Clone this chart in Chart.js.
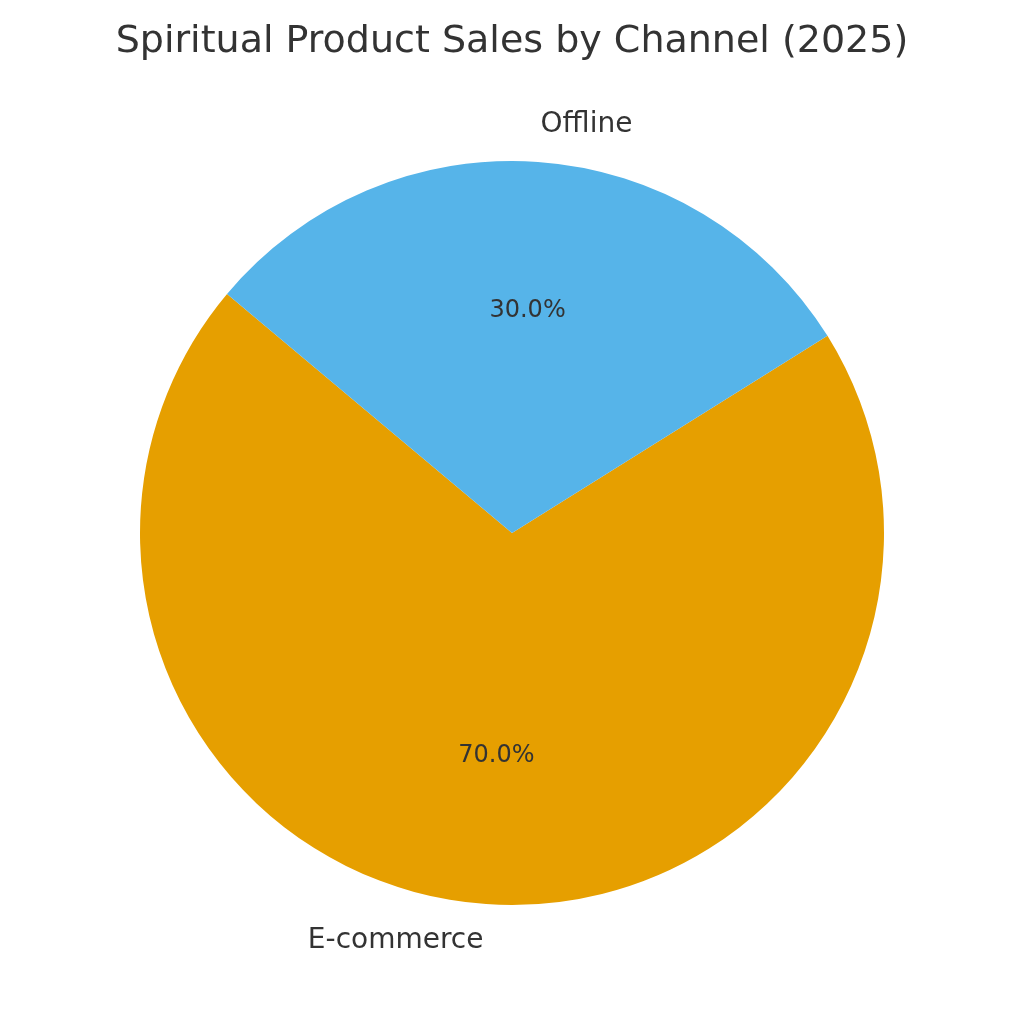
<!DOCTYPE html>
<html>
<head>
<meta charset="utf-8">
<script src="https://cdn.jsdelivr.net/npm/chart.js@4/dist/chart.umd.min.js"></script>
<style>
  html, body { margin: 0; padding: 0; background: #ffffff; }
  #wrap { width: 1024px; height: 1024px; }
</style>
</head>
<body>
<div id="wrap"><canvas id="c" width="1024" height="1024"></canvas></div>
<script>
const titleText = 'Spiritual Product Sales by Channel (2025)';
const categories = ['E-commerce', 'Offline'];
const shares = [70, 30];
const sliceColors = ['#E69F00', '#56B4E9'];

const textColor = '#333333';
const fontFamily = '"DejaVu Sans", "Liberation Sans", sans-serif';

const pieLabels = {
  id: 'pieLabels',
  afterDatasetsDraw(chart) {
    const ctx = chart.ctx;
    const meta = chart.getDatasetMeta(0);
    const total = shares.reduce((a, b) => a + b, 0);
    meta.data.forEach((arc, i) => {
      const p = arc.getProps(['x', 'y', 'startAngle', 'endAngle', 'outerRadius'], true);
      const mid = (p.startAngle + p.endAngle) / 2;
      const cx = Math.cos(mid), cy = Math.sin(mid);
      ctx.save();
      ctx.fillStyle = textColor;
      // percentage at 0.6 r
      ctx.font = '24px ' + fontFamily;
      ctx.textAlign = 'center';
      ctx.textBaseline = 'middle';
      const pct = (shares[i] / total * 100).toFixed(1) + '%';
      ctx.fillText(pct, p.x + cx * p.outerRadius * 0.6, p.y + cy * p.outerRadius * 0.6);
      // label at 1.1 r
      ctx.font = '28px ' + fontFamily;
      ctx.textAlign = cx >= 0 ? 'left' : 'right';
      ctx.fillText(categories[i], p.x + cx * p.outerRadius * 1.1, p.y + cy * p.outerRadius * 1.1);
      ctx.restore();
    });
  }
};

new Chart(document.getElementById('c'), {
  type: 'pie',
  data: {
    labels: categories,
    datasets: [{
      data: shares,
      backgroundColor: sliceColors,
      borderWidth: 0
    }]
  },
  options: {
    responsive: false,
    animation: false,
    rotation: 58,
    layout: { padding: { top: 0, bottom: 119, left: 0, right: 0 } },
    plugins: {
      legend: { display: false },
      tooltip: { enabled: false },
      title: {
        display: true,
        text: titleText,
        color: textColor,
        font: { family: fontFamily, size: 38, weight: 'normal', lineHeight: 1.2 },
        padding: { top: 19.2, bottom: 96.2 }
      }
    }
  },
  plugins: [pieLabels]
});
</script>
</body>
</html>
